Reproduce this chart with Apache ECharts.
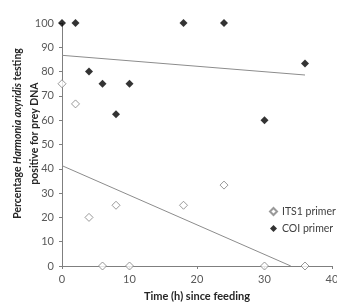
<!DOCTYPE html>
<html>
<head>
<meta charset="utf-8">
<script src="https://cdn.jsdelivr.net/npm/echarts@6/dist/echarts.min.js"></script>
<style>
  html, body { margin: 0; padding: 0; background: #fff; }
  #main { width: 337px; height: 305px; }
</style>
</head>
<body>
<div id="main"></div>
<script>
// hours since feeding
var hours = [0, 2, 4, 6, 8, 10, 18, 24, 30, 36];
// % testing positive
var its1Values = [75, 66.7, 20, 0, 25, 0, 25, 33.3, 0, 0];
var coiValues = [100, 100, 80, 75, 62.5, 75, 100, 100, 60, 83.3];
// trend line end points
var its1Trend = [[0, 41.3], [33.9, 0]];
var coiTrend = [[0, 86.7], [36, 78.6]];

var font = 'Lato, "Open Sans", sans-serif';

function pairs(ys) {
    return hours.map(function (h, i) {
        return [h, ys[i]];
    });
}

var myChart = echarts.init(document.getElementById('main'));

myChart.setOption({
    animation: false,
    textStyle: { fontFamily: font },
    grid: {
        left: 62,
        right: 5,
        top: 23,
        bottom: 39,
        containLabel: false,
        outerBoundsMode: 'none'
    },
    legend: {
        orient: 'vertical',
        left: 269,
        top: 206,
        padding: 0,
        itemWidth: 7,
        itemHeight: 7,
        itemGap: 6,
        itemTextGap: 4,
        textStyle: { fontSize: 10.5, color: '#404040', fontFamily: font },
        data: ['ITS1 primer', 'COI primer']
    },
    xAxis: {
        type: 'value',
        min: 0,
        max: 40,
        interval: 10,
        name: 'Time (h) since feeding',
        nameLocation: 'middle',
        nameGap: 25,
        nameTextStyle: { fontSize: 11, fontWeight: 'bold', color: '#262626', fontFamily: font },
        axisLine: { lineStyle: { color: '#7f7f7f' } },
        axisTick: { show: true, length: 3, lineStyle: { color: '#7f7f7f' } },
        axisLabel: { fontSize: 11, color: '#595959', margin: 8 },
        splitLine: { show: false }
    },
    yAxis: {
        type: 'value',
        min: 0,
        max: 100,
        interval: 10,
        name: '{b|Percentage }{bi|Harmonia axyridis}{b| testing}\n{b|positive for prey DNA}',
        nameLocation: 'middle',
        nameRotate: 90,
        nameGap: 19,
        nameMoveOverlap: false,
        nameTextStyle: {
            verticalAlign: 'bottom',
            padding: [0, 0, 0, 22],
            rich: {
                b: { fontSize: 10.5, fontWeight: 'bold', color: '#262626', fontFamily: font, lineHeight: 17 },
                bi: { fontSize: 10.5, fontWeight: 'bold', fontStyle: 'italic', color: '#262626', fontFamily: font, lineHeight: 17 }
            }
        },
        axisLine: { show: true, lineStyle: { color: '#7f7f7f' } },
        axisTick: { show: true, length: 3, lineStyle: { color: '#7f7f7f' } },
        axisLabel: { fontSize: 11, color: '#595959', margin: 8 },
        splitLine: { show: false }
    },
    series: [
        {
            name: 'ITS1 primer',
            type: 'scatter',
            symbol: 'diamond',
            symbolSize: 8,
            itemStyle: { color: '#fff', borderColor: '#808080', borderWidth: 1 },
            data: pairs(its1Values),
            z: 3
        },
        {
            name: 'COI primer',
            type: 'scatter',
            symbol: 'diamond',
            symbolSize: 8,
            itemStyle: { color: '#000' },
            data: pairs(coiValues),
            z: 3
        },
        {
            name: 'ITS1 trend',
            type: 'line',
            symbol: 'none',
            lineStyle: { color: '#8c8c8c', width: 1 },
            data: its1Trend,
            z: 2
        },
        {
            name: 'COI trend',
            type: 'line',
            symbol: 'none',
            lineStyle: { color: '#8c8c8c', width: 1 },
            data: coiTrend,
            z: 2
        }
    ]
});
</script>
</body>
</html>
